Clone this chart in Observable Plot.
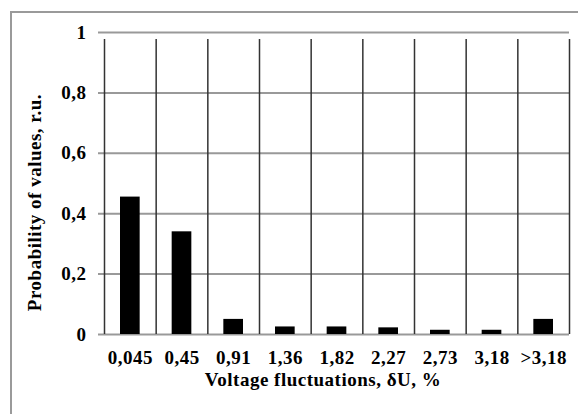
<!DOCTYPE html>
<html>
<head>
<meta charset="utf-8">
<script src="https://cdn.jsdelivr.net/npm/d3@7"></script>
<script src="https://cdn.jsdelivr.net/npm/@observablehq/plot@0.6"></script>
<style>
  html, body { margin: 0; padding: 0; background: #fff; overflow: hidden; }
  #wrap { position: relative; width: 578px; height: 414px; overflow: hidden; }
  #chart { position: absolute; left: 0; top: 0; }
  #border { position: absolute; left: 10px; top: 11px; width: 620px; height: 520px; border: 2px solid #9a9a9a; box-sizing: border-box; z-index: 2; pointer-events: none; }
</style>
</head>
<body>
<div id="wrap"><div id="chart"></div><div id="border"></div></div>
<script>
const categories = ["0,045", "0,45", "0,91", "1,36", "1,82", "2,27", "2,73", "3,18", ">3,18"];
const probabilities = [0.455, 0.34, 0.05, 0.025, 0.025, 0.022, 0.014, 0.014, 0.05];
const yTicks = [0, 0.2, 0.4, 0.6, 0.8, 1];
const yTickLabels = ["0", "0,2", "0,4", "0,6", "0,8", "1"];
const xTitle = "Voltage fluctuations, δU, %";
const yTitle = "Probability of values, r.u.";

const data = categories.map((c, i) => ({i, c, v: probabilities[i]}));
const bounds = d3.range(categories.length + 1);

const chart = Plot.plot({
  width: 578,
  height: 414,
  marginLeft: 104,
  marginRight: 9,
  marginTop: 32,
  marginBottom: 80,
  style: {fontFamily: "'Liberation Serif', 'Times New Roman', serif", fontSize: "19px", fontWeight: "bold", letterSpacing: "0.5px", color: "#000", background: "transparent"},
  x: {domain: [0, categories.length]},
  y: {domain: [0, 1]},
  marks: [
    Plot.ruleY(yTicks, {y: d => d, x1: 0, x2: categories.length, insetLeft: -6, stroke: "#999", strokeWidth: 2, strokeOpacity: 1}),
    Plot.ruleX(bounds, {x: d => d, y1: 0, y2: 1, insetBottom: -7, stroke: "#333", strokeWidth: 1.5, strokeOpacity: 1}),
    Plot.rectY(data, {x1: d => d.i, x2: d => d.i + 1, y1: 0, y2: d => d.v, insetLeft: 16, insetRight: 16, fill: "#000"}),
    Plot.axisY({ticks: yTicks, tickFormat: d => yTickLabels[yTicks.indexOf(d)], tickSize: 0, tickPadding: 18, label: null}),
    Plot.axisX({ticks: categories.map((_, i) => i + 0.5), tickFormat: d => categories[Math.floor(d)], tickSize: 0, tickPadding: 16, label: null}),
    Plot.text([xTitle], {text: d => d, frameAnchor: "bottom", textAnchor: "middle", dx: -14, dy: 51}),
    Plot.text([yTitle], {text: d => d, frameAnchor: "left", textAnchor: "middle", rotate: -90, dx: -70, dy: 19})
  ]
});
document.getElementById("chart").appendChild(chart);
</script>
</body>
</html>
